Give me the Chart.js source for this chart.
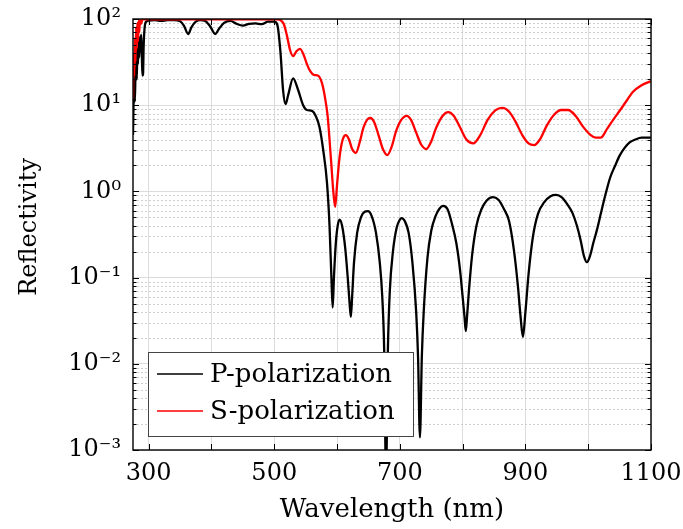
<!DOCTYPE html>
<html>
<head>
<meta charset="utf-8">
<script src="https://cdn.jsdelivr.net/npm/chart.js@4.4.1/dist/chart.umd.min.js"></script>
<style>
  html, body { margin:0; padding:0; background:#fff; }
  canvas { display:block; }
</style>
</head>
<body>
<canvas id="reflectivityChart" width="683" height="529"></canvas>
<script>
// axis ticks
const xTicks = [300, 400, 500, 600, 700, 800, 900, 1000, 1100];
const xTickLabels = ['300', '', '500', '', '700', '', '900', '', '1100'];
const yTicks = [1e-3, 1e-2, 1e-1, 1, 10, 100];
const yTickLabels = ['10⁻³', '10⁻²', '10⁻¹', '10⁰', '10¹', '10²'];

// P-polarization
const pWavelength = [275,276,277,278,279,280,281,282,283,284,285,286,287,288,289,290,291,292,294,296,
  300,310,320,330,340,350,356,363,368,375,382,390,398,406,412,420,430,440,450,460,470,480,490,500,
  505,510,514,518,522,530,538,546,552,560,566,572,578,584,588,591,593,595,598,601,604,608,613,617,
  620,622,624,627,632,638,644,649,655,662,668,672,675,678,681,684,689,695,700,703,708,714,720,726,
  729,732,735,738,744,750,757,763,769,776,783,790,796,800,803,805,807,810,815,822,830,838,848,857,
  866,874,882,888,892,896,900,905,912,920,930,940,949,958,966,975,982,988,993,998,1003,1008,1014,
  1020,1028,1035,1043,1050,1058,1066,1075,1085,1100];
const pReflectivity = [4.5,12,30,11,26,42,20,46,30,55,36,62,46,66,40,22,23,50,85,93,
  96,97,95,97,97,94,84,67,80,93,97,95,82,67,77,90,95,88,84,88,89,87,93,93,
  85,40,15,10.3,13,20.5,15,10,8.8,8.6,7.5,5.6,3,1.25,0.4,0.1,0.045,0.1,0.25,0.4,0.47,0.4,0.22,0.1,
  0.05,0.035,0.06,0.15,0.33,0.5,0.58,0.59,0.52,0.33,0.15,0.06,0.015,0.0005,0.015,0.07,0.2,0.38,0.47,0.49,0.45,0.33,0.15,0.04,
  0.012,0.0014,0.012,0.04,0.17,0.35,0.52,0.63,0.68,0.62,0.42,0.25,0.12,0.06,0.035,0.024,0.035,0.07,0.18,0.4,0.62,0.78,0.86,0.8,
  0.62,0.45,0.2,0.08,0.037,0.0205,0.04,0.11,0.3,0.55,0.75,0.88,0.91,0.85,0.72,0.56,0.4,0.27,0.18,0.151,0.18,0.25,0.36,
  0.55,0.95,1.45,2.0,2.6,3.2,3.7,4.0,4.2,4.2];

// S-polarization
const sWavelength = [275,276,277,278,279,280,281,282,283,284,285,286,288,290,295,505,510,515,520,525,
  530,535,541,547,552,557,563,570,576,581,585,588,591,594,597,600,604,609,614,619,624,630,636,642,
  648,653,659,666,673,680,687,694,702,711,718,726,734,742,750,758,768,777,786,796,806,817,828,840,
  852,863,874,884,895,905,914,923,934,946,957,968,980,992,1004,1012,1020,1030,1040,1051,1062,1071,1085,1100];
const sReflectivity = [12,40,22,60,32,80,45,90,55,95,70,98,88,99,99,99,97,88,65,44,
  37,42,45,38,30,25,22.5,22,18,12,7.5,4,2,1,0.66,1.2,2.5,4,4.5,4,3.1,2.8,3.7,5.5,
  6.8,7.1,6.4,4.5,3.1,2.64,3.3,5,6.7,7.5,6.7,4.8,3.5,3.1,3.8,5.5,7.5,8.3,7.5,5.5,4,3.6,4.5,6.8,
  8.7,9.3,8.4,6.5,4.5,3.6,3.45,4,5.8,7.8,8.8,8.8,7.5,5.6,4.5,4.2,4.2,5.3,6.8,8.8,11.5,14.2,17,19];

const FONT = 'DejaVu Serif';
Chart.defaults.font.family = FONT;
Chart.defaults.color = '#000';

// no extra room for tick label overflow, layout padding decides the plot box
function noOverflow(s) {
  s.paddingLeft = 0; s.paddingRight = 0; s.paddingTop = 0; s.paddingBottom = 0;
}

// dotted minor grid, frame with inward ticks, legend inside the plot
const framePlugin = {
  id: 'frame',
  beforeDatasetsDraw(chart) {
    const ctx = chart.ctx, a = chart.chartArea, y = chart.scales.y;
    ctx.save();
    ctx.strokeStyle = '#cfcfcf';
    ctx.lineWidth = 1;
    ctx.setLineDash([2, 2]);
    for (let d = 0; d < yTicks.length - 1; d++) {
      for (let m = 2; m <= 9; m++) {
        const py = Math.round(y.getPixelForValue(m * yTicks[d])) + 0.5;
        ctx.beginPath(); ctx.moveTo(a.left, py); ctx.lineTo(a.right, py); ctx.stroke();
      }
    }
    ctx.restore();
  },
  afterDatasetsDraw(chart) {
    const ctx = chart.ctx, a = chart.chartArea, x = chart.scales.x, y = chart.scales.y;
    ctx.save();
    ctx.strokeStyle = '#000';
    ctx.lineWidth = 1;
    // x ticks, bottom and top
    xTicks.forEach(v => {
      const px = Math.round(x.getPixelForValue(v)) + 0.5;
      ctx.beginPath();
      ctx.moveTo(px, a.bottom); ctx.lineTo(px, a.bottom - 6);
      ctx.moveTo(px, a.top); ctx.lineTo(px, a.top + 6);
      ctx.stroke();
    });
    // y ticks, left and right
    for (let d = 0; d < yTicks.length; d++) {
      for (let m = 1; m <= 9; m++) {
        if (d === yTicks.length - 1 && m > 1) break;
        const py = Math.round(y.getPixelForValue(m * yTicks[d])) + 0.5;
        const len = m === 1 ? 6 : 3.5;
        ctx.beginPath();
        ctx.moveTo(a.left, py); ctx.lineTo(a.left + len, py);
        ctx.moveTo(a.right, py); ctx.lineTo(a.right - len, py);
        ctx.stroke();
      }
    }
    // frame
    ctx.lineWidth = 1.4;
    ctx.strokeRect(a.left, a.top, a.right - a.left, a.bottom - a.top);

    // legend box
    const bx = a.left + 15, by = a.bottom - 98, bw = 265, bh = 84;
    ctx.fillStyle = '#fff';
    ctx.fillRect(bx, by, bw, bh);
    ctx.strokeStyle = '#444';
    ctx.lineWidth = 1;
    ctx.strokeRect(bx + 0.5, by + 0.5, bw, bh);
    ctx.font = '26px "' + FONT + '"';
    ctx.textBaseline = 'middle';
    ctx.textAlign = 'left';
    chart.data.datasets.forEach((ds, i) => {
      const ly = by + 22 + i * 37;
      ctx.strokeStyle = ds.borderColor;
      ctx.lineWidth = 1.4;
      ctx.beginPath(); ctx.moveTo(bx + 9, ly); ctx.lineTo(bx + 55, ly); ctx.stroke();
      ctx.fillStyle = '#000';
      ctx.fillText(ds.label, bx + 62, ly + 1);
    });
    ctx.restore();
  }
};

new Chart(document.getElementById('reflectivityChart'), {
  type: 'line',
  data: {
    datasets: [
      {
        label: 'P-polarization',
        data: pWavelength.map((w, i) => ({ x: w, y: pReflectivity[i] })),
        borderColor: '#000000',
        borderWidth: 2.3,
        pointRadius: 0,
        cubicInterpolationMode: 'monotone',
        order: 1
      },
      {
        label: 'S-polarization',
        data: sWavelength.map((w, i) => ({ x: w, y: sReflectivity[i] })),
        borderColor: '#ff0000',
        borderWidth: 2.3,
        pointRadius: 0,
        cubicInterpolationMode: 'monotone',
        order: 0
      }
    ]
  },
  options: {
    responsive: false,
    animation: false,
    layout: { padding: { left: 0, top: 19, right: 32, bottom: 0 } },
    plugins: { legend: { display: false }, tooltip: { enabled: false } },
    scales: {
      x: {
        type: 'linear',
        min: 275, max: 1100,
        afterBuildTicks: s => { s.ticks = xTicks.map(v => ({ value: v })); },
        afterFit: s => { s.height = 79; noOverflow(s); },
        ticks: {
          autoSkip: false, maxRotation: 0, padding: 9,
          font: { size: 24 },
          callback: (v, i) => xTickLabels[i]
        },
        grid: { color: '#dcdcdc', lineWidth: 1, drawTicks: false },
        border: { display: false },
        title: { display: true, text: 'Wavelength (nm)', font: { size: 26 }, padding: { top: 0, bottom: 3 } }
      },
      y: {
        type: 'logarithmic',
        min: 1e-3, max: 100,
        afterBuildTicks: s => { s.ticks = yTicks.map(v => ({ value: v })); },
        afterFit: s => { s.width = 133; noOverflow(s); },
        ticks: {
          autoSkip: false, padding: 12,
          font: { size: 24 },
          callback: (v, i) => yTickLabels[i]
        },
        grid: { color: '#dcdcdc', lineWidth: 1, drawTicks: false },
        border: { display: false },
        title: { display: true, text: '  Reflectivity', font: { size: 24 }, padding: { top: 15, bottom: 0 } }
      }
    }
  },
  plugins: [framePlugin]
});
</script>
</body>
</html>
